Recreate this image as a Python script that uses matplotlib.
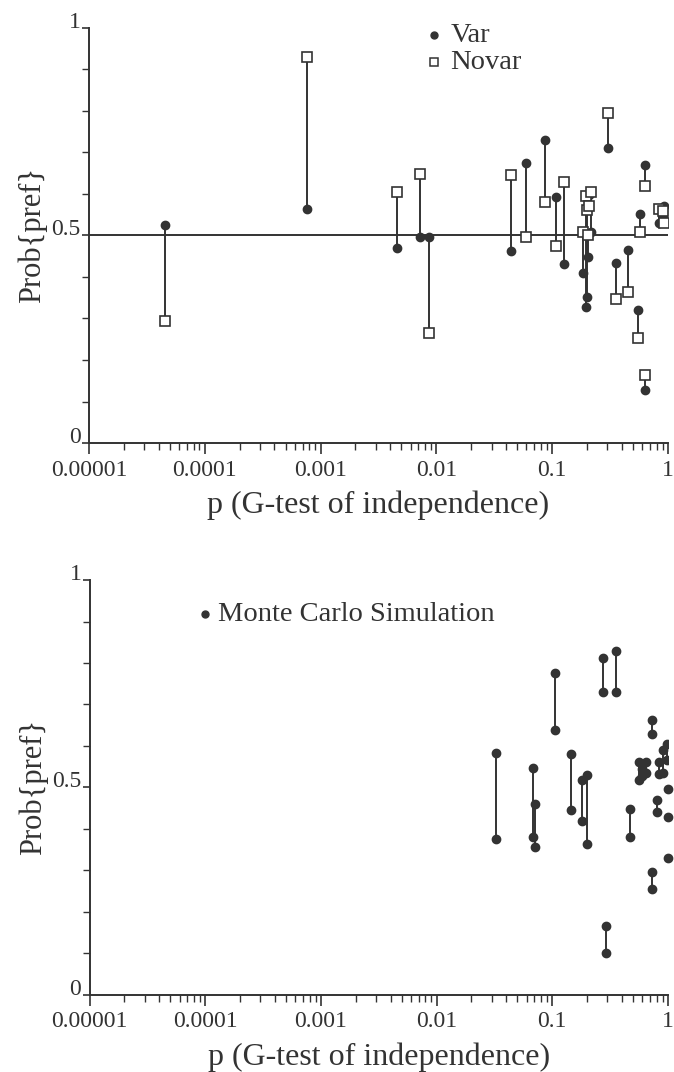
#!/usr/bin/env python3
"""
Prob{pref} against G-test p value: Var/Novar pairs (top)
and Monte Carlo simulation pairs (bottom).
"""

import matplotlib

matplotlib.use("Agg")
import matplotlib.pyplot as plt
import numpy as np
from matplotlib.ticker import FixedLocator, LogLocator, NullFormatter

plt.rcParams["font.family"] = ["Liberation Serif", "DejaVu Serif"]

INK = "#333333"

# --- top panel: one pair per experiment ---
var_p = [4.5e-5, 7.6e-4, 0.00453, 0.0072, 0.0087, 0.0443, 0.0598, 0.0861,
         0.107, 0.127, 0.184, 0.196, 0.200, 0.205, 0.215, 0.210, 0.302, 0.356,
         0.450, 0.552, 0.578, 0.638, 0.638, 0.83, 0.90, 0.93]
var_y = [0.526, 0.563, 0.469, 0.497, 0.497, 0.463, 0.675, 0.729,
         0.593, 0.430, 0.409, 0.328, 0.352, 0.447, 0.509, 0.597, 0.711, 0.434,
         0.464, 0.320, 0.551, 0.668, 0.128, 0.529, 0.545, 0.571]
novar_y = [0.294, 0.929, 0.604, 0.648, 0.264, 0.644, 0.497, 0.579,
           0.475, 0.628, 0.508, 0.595, 0.561, 0.500, 0.604, 0.570, 0.795, 0.346,
           0.363, 0.254, 0.507, 0.619, 0.163, 0.563, 0.559, 0.529]

# --- bottom panel: Monte Carlo pairs ---
mc_p = [0.0328, 0.068, 0.0703, 0.106, 0.146, 0.182, 0.200, 0.274, 0.294,
        0.357, 0.466, 0.557, 0.600, 0.649, 0.726, 0.726, 0.805, 0.845,
        0.908, 0.973]
mc_hi = [0.583, 0.546, 0.460, 0.777, 0.580, 0.518, 0.530, 0.813, 0.166,
         0.830, 0.447, 0.562, 0.545, 0.562, 0.662, 0.295, 0.469, 0.562,
         0.590, 0.604]
mc_lo = [0.375, 0.380, 0.357, 0.638, 0.445, 0.419, 0.363, 0.729, 0.100,
         0.729, 0.380, 0.518, 0.527, 0.534, 0.628, 0.256, 0.441, 0.532,
         0.535, 0.567]
# lone points sitting on the right edge
mc_edge_p = [1.0, 1.0, 1.0]
mc_edge_y = [0.495, 0.429, 0.330]

x_ticks = [1e-5, 1e-4, 1e-3, 1e-2, 1e-1, 1]
x_ticklabels = ["0.00001", "0.0001", "0.001", "0.01", "0.1", "1"]
y_ticks = [0, 0.5, 1]
y_ticklabels = ["0", "0.5", "1"]


def style_axes(ax):
    ax.set_xscale("log")
    ax.set_xlim(1e-5, 1)
    ax.set_ylim(0, 1)
    for side in ["top", "right"]:
        ax.spines[side].set_visible(False)
    for side in ["left", "bottom"]:
        ax.spines[side].set_color(INK)
        ax.spines[side].set_linewidth(1.4)

    ax.set_xticks(x_ticks)
    ax.set_xticklabels(x_ticklabels)
    ax.xaxis.set_minor_locator(LogLocator(base=10, subs=np.arange(2, 10)))
    ax.xaxis.set_minor_formatter(NullFormatter())
    ax.set_yticks(y_ticks)
    ax.set_yticklabels(y_ticklabels)
    ax.yaxis.set_minor_locator(FixedLocator(np.arange(0.1, 1.0, 0.1)))

    ax.tick_params(axis="x", which="major", length=8, width=1.2, colors=INK,
                   labelsize=17, pad=4)
    ax.tick_params(axis="x", which="minor", length=5, width=1.0, colors=INK)
    ax.tick_params(axis="y", which="major", length=5, width=1.2, colors=INK,
                   labelsize=17, pad=1)
    ax.tick_params(axis="y", which="minor", length=5, width=1.0, colors=INK)
    for lbl in ax.get_yticklabels():
        lbl.set_verticalalignment("baseline")

    ax.set_xlabel("p (G-test of independence)", fontsize=23, color=INK,
                  labelpad=7)
    ax.set_ylabel("Prob{pref}", fontsize=22, color=INK, labelpad=3)


fig = plt.figure(figsize=(6.74, 10.72), dpi=100)
ax1 = fig.add_axes([0.132, 0.5867, 0.859, 0.3876])
ax2 = fig.add_axes([0.133, 0.0721, 0.858, 0.3868])

# top panel
style_axes(ax1)
ax1.axhline(0.5, color=INK, linewidth=1.4, zorder=1)
ax1.vlines(var_p, var_y, novar_y, color=INK, linewidth=1.4, zorder=2)
ax1.plot(var_p, var_y, linestyle="none", marker="o", markersize=6,
         color=INK, zorder=3)
ax1.plot(var_p, novar_y, linestyle="none", marker="s", markersize=6.5,
         markerfacecolor="white", markeredgecolor=INK, markeredgewidth=1.2,
         zorder=4)

ax1.plot([0.596], [0.982], transform=ax1.transAxes, marker="o",
         markersize=5, color=INK, clip_on=False)
ax1.plot([0.596], [0.916], transform=ax1.transAxes, marker="s",
         markersize=6, markerfacecolor="white", markeredgecolor=INK,
         markeredgewidth=1.1, clip_on=False)
ax1.text(0.624, 0.982, "Var", transform=ax1.transAxes, fontsize=20.5,
         color=INK, va="center", ha="left")
ax1.text(0.624, 0.916, "Novar", transform=ax1.transAxes, fontsize=20.5,
         color=INK, va="center", ha="left")

# bottom panel
style_axes(ax2)
ax2.vlines(mc_p, mc_lo, mc_hi, color=INK, linewidth=1.4, zorder=2)
ax2.plot(mc_p, mc_hi, linestyle="none", marker="o", markersize=6,
         color=INK, zorder=3)
ax2.plot(mc_p, mc_lo, linestyle="none", marker="o", markersize=6,
         color=INK, zorder=3)
ax2.plot(mc_edge_p, mc_edge_y, linestyle="none", marker="o", markersize=6,
         color=INK, zorder=3, clip_on=False)

ax2.plot([0.200], [0.918], transform=ax2.transAxes, marker="o",
         markersize=5, color=INK, clip_on=False)
ax2.text(0.222, 0.918, "Monte Carlo Simulation", transform=ax2.transAxes,
         fontsize=20.5, color=INK, va="center", ha="left")

fig.savefig("out.png", dpi=100)
print("Saved: out.png")
